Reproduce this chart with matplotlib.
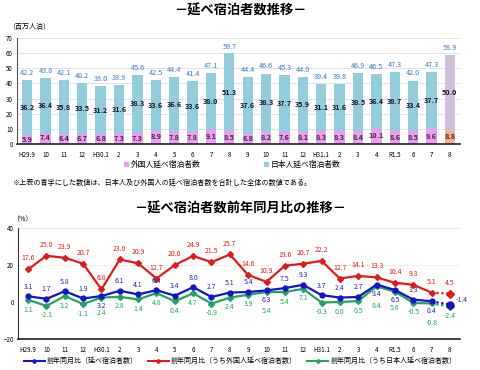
import matplotlib
matplotlib.use("Agg")
import matplotlib.pyplot as plt
from matplotlib.lines import Line2D
import numpy as np

plt.rcParams['font.family'] = ['Noto Sans CJK JP', 'DejaVu Sans']

# months
months = ['H29.9', '10', '11', '12', 'H30.1', '2', '3', '4', '5', '6', '7', '8',
          '9', '10', '11', '12', 'H31.1', '2', '3', '4', 'R1.5', '6', '7', '8']

# million guest nights
total = [42.2, 43.8, 42.1, 40.2, 38.0, 38.9, 45.6, 42.5, 44.4, 41.4, 47.1, 59.7,
         44.4, 46.6, 45.3, 44.0, 39.4, 39.8, 46.9, 46.5, 47.3, 42.0, 47.3, 58.9]
japanese = [36.2, 36.4, 35.8, 33.5, 31.2, 31.6, 38.3, 33.6, 36.6, 33.6, 38.0, 51.3,
            37.6, 38.3, 37.7, 35.9, 31.1, 31.6, 38.5, 36.4, 38.7, 33.4, 37.7, 50.0]
foreign = [5.9, 7.4, 6.4, 6.7, 6.8, 7.3, 7.3, 8.9, 7.8, 7.8, 9.1, 8.5,
           6.8, 8.2, 7.6, 8.1, 8.3, 8.3, 8.4, 10.1, 8.6, 8.5, 9.6, 8.8]

# year-on-year change (%)
yoy_total = [3.1, 1.7, 5.8, 1.9, 3.2, 6.1, 4.1, 6.4, 3.4, 8.0, 2.7, 5.1,
             5.4, 6.3, 7.5, 9.3, 3.7, 2.4, 2.7, 9.4, 6.5, 1.3, 0.4, -1.4]
yoy_foreign = [17.6, 25.0, 23.9, 20.7, 6.8, 23.0, 20.9, 12.7, 20.0, 24.9, 21.5, 25.7,
               14.6, 10.9, 19.6, 20.7, 22.2, 12.7, 14.1, 13.3, 10.4, 9.3, 5.1, 4.5]
yoy_japanese = [1.1, -2.1, 3.2, -1.1, 2.4, 2.8, 1.4, 4.8, 0.4, 4.7, -0.9, 2.4,
                3.9, 5.4, 5.4, 7.1, -0.3, 0.0, 0.5, 8.4, 5.6, -0.5, -0.8, -2.4]

x = np.arange(len(months))
n = len(months)

fig = plt.figure(figsize=(4.8, 3.7), dpi=100)

# ---------------- top chart: bars ----------------
ax1 = fig.add_axes([17/480, 1-144/370, 443/480, 106/370])
c_jp = '#92CDDC'
c_fr = '#F09AF0'
c_jp_last = '#CCC0DA'
c_fr_last = '#F4B183'
jp_colors = [c_jp]*(n-1) + [c_jp_last]
fr_colors = [c_fr]*(n-1) + [c_fr_last]
ax1.bar(x, foreign, width=0.56, color=fr_colors, zorder=2)
ax1.bar(x, japanese, width=0.56, bottom=foreign, color=jp_colors, zorder=2)
ax1.set_xlim(-0.55, n-0.45)
ax1.set_ylim(0, 70)
ax1.set_yticks(range(0, 71, 10))
ax1.set_xticks(x)
ax1.set_xticklabels(months)
ax1.tick_params(axis='both', labelsize=4.5, length=0, pad=3)
ax1.tick_params(axis='x', pad=5)
ax1.grid(axis='y', color='#DDDDDD', lw=0.6, zorder=0)
for s in ['top', 'right']:
    ax1.spines[s].set_visible(False)
ax1.spines['left'].set_color('#555555')
ax1.spines['bottom'].set_color('#222222')
ax1.spines['bottom'].set_linewidth(1.2)

for i in range(n):
    ax1.text(x[i], total[i] + 2, f'{total[i]:.1f}', ha='center', va='bottom',
             fontsize=5.2, color='#3B7DC4')
    ax1.text(x[i], foreign[i] + japanese[i] / 2, f'{japanese[i]:.1f}', ha='center',
             va='center', fontsize=5.2, fontweight='bold', color='#1A1A1A')
    ax1.text(x[i], foreign[i] / 2 + 0.3, f'{foreign[i]:.1f}', ha='center', va='center',
             fontsize=5.2, fontweight='bold', color='#3A2A50')

fig.text(0.5, 1-11/370, '－延べ宿泊者数推移－', ha='center', va='center',
         fontsize=9.5, fontweight='bold')
fig.text(8/480, 1-27/370, '（百万人泊）', ha='left', va='center', fontsize=5)

h1 = [Line2D([], [], ls='', marker='s', ms=2.5, color=c_fr),
      Line2D([], [], ls='', marker='s', ms=2.5, color=c_jp)]
fig.legend(h1, ['外国人延べ宿泊者数', '日本人延べ宿泊者数'], loc='center',
           bbox_to_anchor=(232/480, 1-165/370), ncol=2, frameon=False,
           fontsize=5.6, handletextpad=0.2, columnspacing=8, handlelength=0.8)
fig.text(12/480, 1-183/370,
         '※上表の青字にした数値は、日本人及び外国人の延べ宿泊者数を合計した全体の数値である。',
         ha='left', va='center', fontsize=5.1)

# ---------------- bottom chart: lines ----------------
ax2 = fig.add_axes([18/480, 1-339/370, 442/480, 111/370])
c_b = '#1414C8'
c_r = '#E01B1B'
c_g = '#22A562'
ax2.set_xlim(-0.55, n-0.45)
ax2.set_ylim(-20, 40)
ax2.set_yticks([-20, 0, 20, 40])
ax2.set_xticks(x)
ax2.set_xticklabels(months)
ax2.tick_params(axis='both', labelsize=4.5, length=0, pad=3)
ax2.tick_params(axis='x', pad=5)
ax2.axhline(20, color='#CCCCCC', lw=0.6, ls=':', zorder=0)
ax2.axhline(40, color='#E4E4E4', lw=0.6, zorder=0)
for s in ['top', 'right']:
    ax2.spines[s].set_visible(False)
ax2.spines['left'].set_color('#333333')
ax2.spines['bottom'].set_color('#222222')
ax2.spines['bottom'].set_linewidth(1.2)

series = [(yoy_japanese, c_g, 'D', 3), (yoy_total, c_b, 'o', 3.5), (yoy_foreign, c_r, 'D', 3)]
for vals, col, mk, ms in series:
    ax2.plot(x[:-1], vals[:-1], color=col, lw=1.6, marker=mk, ms=ms, zorder=3)
    ax2.plot(x[-2:], vals[-2:], color=col, lw=1.6, ls=(0, (1, 1.2)), zorder=3)
    ax2.plot(x[-1], vals[-1], color=col, marker=mk, ms=ms + 1.5, zorder=4)

for i in range(n):
    ax2.annotate(f'{yoy_foreign[i]:.1f}', (x[i], yoy_foreign[i]), xytext=(0, 5),
                 textcoords='offset points', ha='center', va='bottom', fontsize=5,
                 style='italic', color=c_r)

blue_below = [4, 13, 19, 20, 22]
for i in range(n):
    if i == n - 1:
        ax2.annotate(f'{yoy_total[i]:.1f}', (x[i], yoy_total[i]), xytext=(4, 3),
                     textcoords='offset points', ha='left', va='center', fontsize=5,
                     style='italic', color='#2A2AA0')
    elif i in blue_below:
        ax2.annotate(f'{yoy_total[i]:.1f}', (x[i], yoy_total[i]), xytext=(0, -4),
                     textcoords='offset points', ha='center', va='top', fontsize=5,
                     style='italic', color='#2A2AA0')
    else:
        ax2.annotate(f'{yoy_total[i]:.1f}', (x[i], yoy_total[i]), xytext=(0, 4),
                     textcoords='offset points', ha='center', va='bottom', fontsize=5,
                     style='italic', color='#2A2AA0')

green_far = {4: -8, 13: -11, 19: -11, 20: -9, 22: -11}
for i in range(n):
    off = green_far.get(i, -4)
    ax2.annotate(f'{yoy_japanese[i]:.1f}', (x[i], yoy_japanese[i]), xytext=(0, off),
                 textcoords='offset points', ha='center', va='top', fontsize=5,
                 color=c_g)

fig.text(0.5, 1-209/370, '－延べ宿泊者数前年同月比の推移－', ha='center', va='center',
         fontsize=9.5, fontweight='bold')
fig.text(12/480, 1-219/370, '（%）', ha='left', va='center', fontsize=5)

h2 = [Line2D([], [], color=c_b, lw=1.5, marker='D', ms=2),
      Line2D([], [], color=c_r, lw=1.5, marker='D', ms=2),
      Line2D([], [], color=c_g, lw=1.5, marker='D', ms=2)]
fig.legend(h2, ['前年同月比（延べ宿泊者数）', '前年同月比（うち外国人延べ宿泊者数）',
                '前年同月比（うち日本人延べ宿泊者数）'], loc='center',
           bbox_to_anchor=(0.5, 1-361/370), ncol=3, frameon=False, fontsize=5,
           handletextpad=0.3, columnspacing=1.5, handlelength=3)

fig.savefig('out.png', dpi=100)
